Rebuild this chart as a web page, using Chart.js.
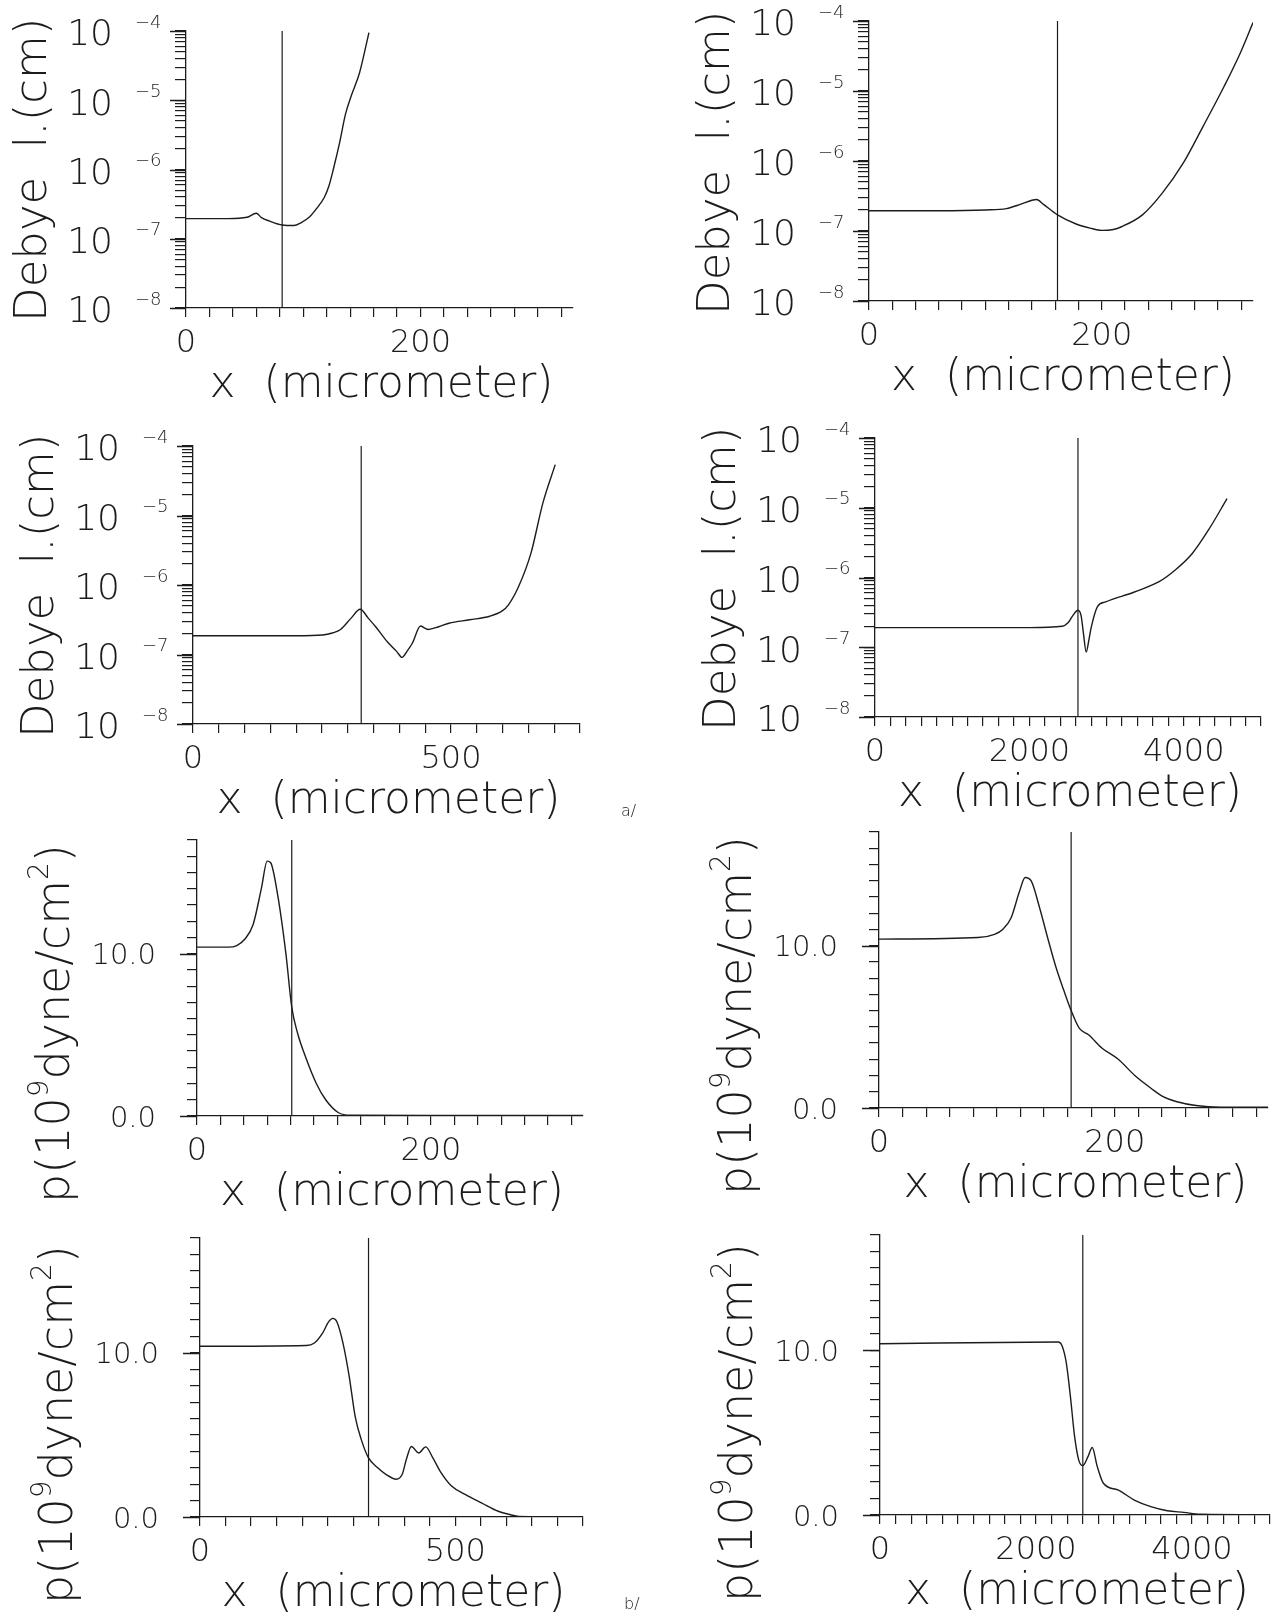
<!DOCTYPE html>
<html>
<head>
<meta charset="utf-8">
<title>Debye length and pressure profiles</title>
<style>
  body { margin: 0; background: #fff; }
  #page { position: relative; width: 1286px; height: 1619px; overflow: hidden; background: #fff; }
  #page canvas { position: absolute; }
</style>
</head>
<body>
<div id="page">
  <canvas id="c1"></canvas>
  <canvas id="c2"></canvas>
  <canvas id="c3"></canvas>
  <canvas id="c4"></canvas>
  <canvas id="c5"></canvas>
  <canvas id="c6"></canvas>
  <canvas id="c7"></canvas>
  <canvas id="c8"></canvas>
</div>
<script src="https://cdn.jsdelivr.net/npm/chart.js"></script>
<script>
// values, x in micrometer
// a/ Debye length (cm)
const debyeX1 = [0, 36, 52, 60, 64, 72, 82, 92, 98, 105, 111, 118, 122, 126, 131, 136, 141, 148, 156];
const debyeY1 = [1.95e-7, 1.95e-7, 2.04e-7, 2.34e-7, 2.04e-7, 1.78e-7, 1.58e-7, 1.55e-7, 1.70e-7, 2.04e-7,
                 2.69e-7, 3.98e-7, 5.89e-7, 1.07e-6, 2.45e-6, 6.3e-6, 1.17e-5, 2.5e-5, 9.5e-5];
const debyeX2 = [0, 60, 100, 118, 130, 140, 144, 150, 162, 178, 190, 200, 210, 217, 235, 252, 270, 287, 305, 319, 330];
const debyeY2 = [1.95e-7, 1.95e-7, 2.0e-7, 2.09e-7, 2.4e-7, 2.75e-7, 2.82e-7, 2.4e-7, 1.70e-7, 1.26e-7, 1.10e-7,
                 1.02e-7, 1.05e-7, 1.15e-7, 1.70e-7, 3.47e-7, 9.3e-7, 3.1e-6, 1.15e-5, 3.47e-5, 9.5e-5];
const debyeX3 = [0, 200, 251, 270, 286, 306, 324, 340, 354, 377, 395, 405, 415, 425, 441, 449, 456, 476, 496,
                 536, 575, 600, 611, 631, 655, 678, 702];
const debyeY3 = [1.86e-7, 1.86e-7, 1.91e-7, 2.04e-7, 2.29e-7, 3.31e-7, 4.47e-7, 3.31e-7, 2.51e-7, 1.51e-7, 1.10e-7,
                 9.1e-8, 1.12e-7, 1.45e-7, 2.57e-7, 2.40e-7, 2.29e-7, 2.51e-7, 2.82e-7, 3.16e-7, 3.55e-7, 4.27e-7,
                 5.13e-7, 9.5e-7, 2.88e-6, 1.51e-5, 5.4e-5];
const debyeX4 = [0, 2000, 2427, 2500, 2560, 2630, 2670, 2700, 2736, 2770, 2800, 2880, 2987, 3360, 3680, 3893, 4107, 4320, 4560];
const debyeY4 = [1.91e-7, 1.91e-7, 2.0e-7, 2.24e-7, 2.82e-7, 3.39e-7, 2.82e-7, 1.58e-7, 8.5e-8, 1.26e-7, 1.91e-7,
                 3.8e-7, 4.47e-7, 6.2e-7, 8.7e-7, 1.29e-6, 2.19e-6, 4.8e-6, 1.35e-5];

// b/ pressure (10^9 dyne/cm^2)
const pressX1 = [0, 27, 34, 41, 48, 55, 60, 63, 69, 76, 81, 86, 93, 102, 110, 121, 131, 200, 330];
const pressY1 = [10.4, 10.4, 10.5, 10.9, 11.8, 14.0, 15.7, 15.6, 13.6, 10.0, 6.7, 5.1, 3.6, 2.0, 1.0, 0.2, 0.05, 0.03, 0.03];
const pressX2 = [0, 84, 98, 105, 112, 119, 124, 129, 136, 143, 150, 157, 163, 170, 178, 189, 203, 217, 231, 241, 252, 269, 290, 330];
const pressY2 = [10.4, 10.5, 10.7, 11.0, 11.7, 13.3, 14.2, 14.0, 12.4, 10.5, 8.7, 7.2, 6.0, 4.9, 4.5, 3.7, 3.0, 2.0,
                 1.2, 0.7, 0.4, 0.15, 0.05, 0.05];
const pressX3 = [0, 208, 224, 240, 252, 260, 268, 280, 292, 304, 316, 330, 348, 364, 384, 396, 404, 414, 428, 442,
                 456, 472, 492, 520, 552, 584, 608, 624, 750];
const pressY3 = [10.4, 10.45, 10.6, 11.2, 11.9, 12.1, 11.9, 10.6, 8.6, 6.1, 4.7, 3.6, 3.0, 2.6, 2.3, 2.6, 3.5, 4.3,
                 3.9, 4.27, 3.6, 2.7, 1.9, 1.36, 0.85, 0.35, 0.14, 0.04, 0.02];
const pressX4 = [0, 2283, 2335, 2388, 2441, 2494, 2547, 2600, 2668, 2721, 2785, 2864, 3049, 3260, 3472, 3683, 3894, 4106, 5000];
const pressY4 = [10.4, 10.5, 10.26, 9.25, 7.2, 4.8, 3.35, 3.0, 3.56, 4.1, 2.95, 1.93, 1.52, 0.91, 0.51, 0.26, 0.16, 0.05, 0.02];

// position of the vertical marker line in each panel
const frontDebye = [82, 162, 326, 2629];
const frontPress = [81, 163, 330, 2600];

// x axes of the four runs
const xMaxes = [330, 330, 750, 5000];
const xSteps = [20, 20, 50, 200];
const xTickLabels = [[0, 200], [0, 200], [0, 500], [0, 2000, 4000]];

// y axes
const decadeExps = [-8, -7, -6, -5, -4];
const pressMax = 17;
const pressTickLabels = [0.0, 10.0];

const INK = '#1c1c1c';
const FAM = "'DejaVu Sans', sans-serif";
const WT = '200';
const Y_TICK = 11, X_TICK = 9;

// where each panel sits on the page
const layout = [
  { rect: { x: 0,   y: 0,    w: 640, h: 420 }, box: { x0: 186, y0: 31,   x1: 573,  y1: 308 } },
  { rect: { x: 640, y: 0,    w: 646, h: 420 }, box: { x0: 869, y0: 21,   x1: 1253, y1: 301 } },
  { rect: { x: 0,   y: 415,  w: 640, h: 415 }, box: { x0: 193, y0: 446,  x1: 580,  y1: 724 } },
  { rect: { x: 640, y: 415,  w: 646, h: 415 }, box: { x0: 875, y0: 438,  x1: 1261, y1: 717 } },
  { rect: { x: 0,   y: 815,  w: 640, h: 410 }, box: { x0: 197, y0: 840,  x1: 583,  y1: 1116 } },
  { rect: { x: 640, y: 815,  w: 646, h: 410 }, box: { x0: 879, y0: 832,  x1: 1268, y1: 1108 } },
  { rect: { x: 0,   y: 1205, w: 640, h: 414 }, box: { x0: 200, y0: 1238, x1: 583,  y1: 1517 } },
  { rect: { x: 640, y: 1205, w: 646, h: 414 }, box: { x0: 880, y0: 1235, x1: 1270, y1: 1515 } }
];

const debyeXs = [debyeX1, debyeX2, debyeX3, debyeX4];
const debyeYs = [debyeY1, debyeY2, debyeY3, debyeY4];
const pressXs = [pressX1, pressX2, pressX3, pressX4];
const pressYs = [pressY1, pressY2, pressY3, pressY4];

// page order: rows 1-2 Debye length (runs 0..3), rows 3-4 pressure (runs 0..3)
const panels = [];
for (let i = 0; i < 8; i++) {
  const log = i < 4;
  const run = i % 4;
  panels.push({
    id: 'c' + (i + 1),
    log: log,
    run: run,
    xs: log ? debyeXs[run] : pressXs[run],
    ys: log ? debyeYs[run] : pressYs[run],
    front: log ? frontDebye[run] : frontPress[run],
    tag: i === 2 ? 'a/' : (i === 6 ? 'b/' : null),
    rect: layout[i].rect,
    box: layout[i].box
  });
}

function font(px) { return WT + ' ' + px + 'px ' + FAM; }

// draws text pieces along the baseline, superscripts raised
function drawRich(ctx, parts, x, y, size, supSize, raise) {
  let cx = x;
  parts.forEach(pt => {
    ctx.font = font(pt[1] ? supSize : size);
    ctx.fillText(pt[0], cx, pt[1] ? y - raise : y);
    cx += ctx.measureText(pt[0]).width;
  });
}

function textPlugin(p) {
  return {
    id: 'panelText',
    afterDraw(chart) {
      const ctx = chart.ctx, a = chart.chartArea;
      const xs = chart.scales.x, ys = chart.scales.y;
      ctx.save();
      ctx.strokeStyle = INK;
      ctx.fillStyle = INK;
      ctx.lineWidth = 1.3;

      // longer ticks at the labelled y values
      const majors = p.log ? decadeExps.map(e => Math.pow(10, e)) : pressTickLabels;
      ctx.beginPath();
      majors.forEach(v => {
        const py = Math.round(ys.getPixelForValue(v)) + 0.5;
        ctx.moveTo(a.left - (p.log ? 16 : 17), py);
        ctx.lineTo(a.left, py);
      });
      ctx.stroke();

      // x tick labels
      ctx.font = font(32);
      ctx.textAlign = 'center';
      ctx.textBaseline = 'middle';
      xTickLabels[p.run].forEach(v => {
        ctx.fillText(String(v), xs.getPixelForValue(v), a.bottom + 36);
      });

      // x title
      ctx.font = font(44);
      ctx.fillText('x  (micrometer)', (a.left + a.right) / 2 + 2, a.bottom + 78);

      if (p.log) {
        decadeExps.forEach(e => {
          const py = ys.getPixelForValue(Math.pow(10, e));
          ctx.font = font(36);
          ctx.textAlign = 'right';
          ctx.textBaseline = 'middle';
          ctx.fillText('10', a.left - 73, py + 5);
          ctx.font = font(18);
          ctx.textAlign = 'left';
          ctx.fillText('\u2212' + Math.abs(e), a.left - 51, py - 8);
        });
        ctx.save();
        ctx.translate(a.left - 140, a.bottom + 14);
        ctx.rotate(-Math.PI / 2);
        ctx.font = font(45);
        ctx.textAlign = 'left';
        ctx.textBaseline = 'alphabetic';
        ctx.fillText('Debye  l.(cm)', 0, 0);
        ctx.restore();
      } else {
        ctx.font = font(29);
        ctx.textAlign = 'right';
        ctx.textBaseline = 'middle';
        pressTickLabels.forEach(v => {
          ctx.fillText(v.toFixed(1), a.left - 41, ys.getPixelForValue(v) + 3);
        });
        ctx.save();
        ctx.translate(a.left - 128, a.bottom + 87);
        ctx.rotate(-Math.PI / 2);
        ctx.textAlign = 'left';
        ctx.textBaseline = 'alphabetic';
        drawRich(ctx, [['p(10', 0], ['9', 1], ['dyne/cm', 0], ['2', 1], [')', 0]], 0, 0, 46, 28, 21);
        ctx.restore();
      }

      if (p.tag) {
        ctx.font = font(16);
        ctx.textAlign = 'left';
        ctx.textBaseline = 'middle';
        ctx.fillText(p.tag, a.right + 41, a.bottom + 88);
      }
      ctx.restore();
    }
  };
}

function axisGrid(len) {
  return { display: true, drawOnChartArea: false, drawTicks: true, tickLength: len, color: INK, lineWidth: 1.2 };
}

panels.forEach(p => {
  const cv = document.getElementById(p.id);
  const r = p.rect, b = p.box;
  cv.width = r.w;
  cv.height = r.h;
  cv.style.left = r.x + 'px';
  cv.style.top = r.y + 'px';

  const yMin = p.log ? Math.pow(10, decadeExps[0]) : 0;
  const yMax = p.log ? Math.pow(10, decadeExps[decadeExps.length - 1]) : pressMax;
  const pts = p.xs.map((x, i) => ({ x: x, y: p.ys[i] }));

  const yScale = p.log ? {
    type: 'logarithmic', min: yMin, max: yMax,
    afterBuildTicks: axis => {
      const t = [];
      decadeExps.forEach((e, k) => {
        for (let m = 1; m <= 9; m++) {
          if (k === decadeExps.length - 1 && m > 1) break;
          t.push({ value: m * Math.pow(10, e) });
        }
      });
      axis.ticks = t;
    },
    ticks: { display: false },
    grid: axisGrid(Y_TICK),
    border: { display: true, color: INK, width: 1.3 }
  } : {
    type: 'linear', min: 0, max: yMax,
    ticks: { display: false, stepSize: 1 },
    grid: axisGrid(Y_TICK - 1),
    border: { display: true, color: INK, width: 1.3 }
  };
  const yTick = p.log ? Y_TICK : Y_TICK - 1;

  new Chart(cv, {
    type: 'scatter',
    data: {
      datasets: [
        { data: pts, showLine: true, borderColor: INK, borderWidth: 1.4, pointRadius: 0,
          cubicInterpolationMode: 'monotone' },
        { data: [{ x: p.front, y: yMin }, { x: p.front, y: yMax }], showLine: true,
          borderColor: INK, borderWidth: 1.2, pointRadius: 0 }
      ]
    },
    options: {
      responsive: false,
      animation: false,
      events: [],
      layout: {
        padding: {
          left: b.x0 - r.x - yTick,
          top: b.y0 - r.y,
          right: r.x + r.w - b.x1,
          bottom: r.y + r.h - b.y1 - X_TICK
        }
      },
      plugins: { legend: { display: false }, tooltip: { enabled: false } },
      scales: {
        x: {
          type: 'linear', min: 0, max: xMaxes[p.run],
          ticks: { display: false, stepSize: xSteps[p.run], includeBounds: false },
          grid: axisGrid(X_TICK),
          border: { display: true, color: INK, width: 1.3 }
        },
        y: yScale
      }
    },
    plugins: [textPlugin(p)]
  });
});
</script>
</body>
</html>
